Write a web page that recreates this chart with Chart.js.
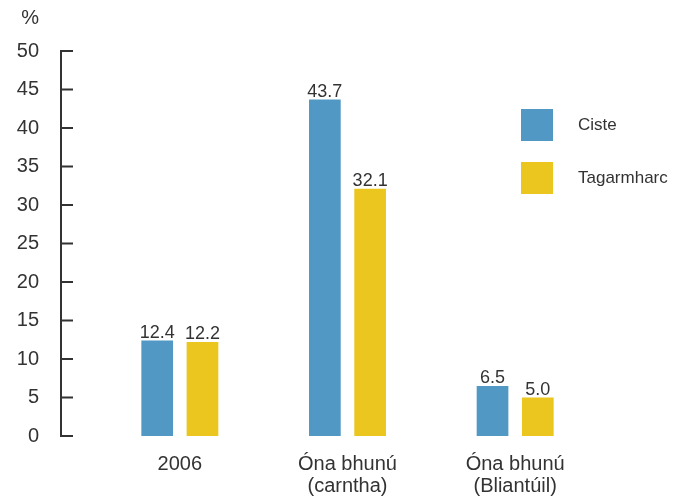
<!DOCTYPE html>
<html>
<head>
<meta charset="utf-8">
<script src="https://cdn.jsdelivr.net/npm/chart.js@4.4.1/dist/chart.umd.min.js"></script>
<style>
  body { margin: 0; background: #fff; }
  #wrap { position: relative; width: 683px; height: 499px; }
</style>
</head>
<body>
<div id="wrap"><canvas id="myChart"></canvas></div>
<script>
'use strict';
// ******* Data *******
let categories = ['2006', ['Óna bhunú', '(carntha)'], ['Óna bhunú', '(Bliantúil)']];
let seriesNames = ['Ciste', 'Tagarmharc'];
let cisteValues = [12.4, 43.7, 6.5];
let tagarmharcValues = [12.2, 32.1, 5.0];
let yTicks = [0, 5, 10, 15, 20, 25, 30, 35, 40, 45, 50];
let unitLabel = '%';

// ******* Styles *******
let textColor = '#333333';
let fontFamily = '"Liberation Sans", Arial, sans-serif';
let blue = '#5198c4';
let yellow = '#ebc61f';

// ****** Extras: axis line with inward ticks, value labels, legend, unit ******
let chartExtras = {
  id: 'chartExtras',
  afterDatasetsDraw(chart) {
    let ctx = chart.ctx;
    let yScale = chart.scales.y;
    let area = chart.chartArea;
    ctx.save();

    // y axis line and tick marks pointing into the plot
    let axisX = 61;
    ctx.strokeStyle = '#333333';
    ctx.lineWidth = 2;
    ctx.beginPath();
    ctx.moveTo(axisX, yScale.getPixelForValue(yTicks[0]) + 1);
    ctx.lineTo(axisX, yScale.getPixelForValue(yTicks[yTicks.length - 1]) - 1);
    for (let i = 0; i < yTicks.length; i++) {
      let py = yScale.getPixelForValue(yTicks[i]);
      ctx.moveTo(axisX - 1, py);
      ctx.lineTo(axisX + 12, py);
    }
    ctx.stroke();

    // value labels over bars
    ctx.fillStyle = textColor;
    ctx.font = '18px ' + fontFamily;
    ctx.textAlign = 'center';
    ctx.textBaseline = 'alphabetic';
    chart.data.datasets.forEach((ds, i) => {
      chart.getDatasetMeta(i).data.forEach((bar, j) => {
        ctx.fillText(ds.data[j].toFixed(1), bar.x, bar.y - 3);
      });
    });

    // unit label
    ctx.font = '20px ' + fontFamily;
    ctx.textAlign = 'right';
    ctx.textBaseline = 'middle';
    ctx.fillText(unitLabel, 39, 18);

    // legend
    let boxX = area.right - 78;
    let boxY = area.top + 58;
    ctx.font = '17px ' + fontFamily;
    ctx.textAlign = 'left';
    chart.data.datasets.forEach((ds, i) => {
      let top = boxY + i * 53;
      ctx.fillStyle = ds.backgroundColor;
      ctx.fillRect(boxX, top, 32, 32);
      ctx.fillStyle = textColor;
      ctx.fillText(ds.label, boxX + 57, top + 16);
    });

    ctx.restore();
  }
};

let ctx = document.getElementById('myChart');

let myChartObj = {
  type: 'bar',
  data: {
    labels: categories,
    datasets: [{
      label: seriesNames[0],
      data: cisteValues,
      backgroundColor: blue,
      borderWidth: 0,
      categoryPercentage: 0.54,
      barPercentage: 0.70
    },
    {
      label: seriesNames[1],
      data: tagarmharcValues,
      backgroundColor: yellow,
      borderWidth: 0,
      categoryPercentage: 0.54,
      barPercentage: 0.70
    }]
  },
  options: {
    responsive: true,
    maintainAspectRatio: false,
    animation: false,
    layout: {
      padding: { top: 51, right: 84, bottom: 2, left: 0 }
    },
    plugins: {
      legend: { display: false },
      tooltip: { enabled: false }
    },
    scales: {
      x: {
        afterFit: function (scale) { scale.height = 61; },
        grid: { display: false, drawTicks: false },
        border: { display: false },
        ticks: {
          color: textColor,
          padding: 17,
          maxRotation: 0,
          font: { family: fontFamily, size: 20, lineHeight: 1.1 }
        }
      },
      y: {
        min: 0,
        max: 50,
        afterFit: function (scale) {
          scale.width = 96;
          scale.paddingTop = 12;
          scale.paddingBottom = 12;
        },
        afterBuildTicks: function (scale) {
          scale.ticks = yTicks.map(v => ({ value: v }));
        },
        grid: { display: false, drawTicks: false },
        border: { display: false },
        ticks: {
          color: textColor,
          padding: 57,
          font: { family: fontFamily, size: 20 }
        }
      }
    }
  },
  plugins: [chartExtras]
};

new Chart(ctx, myChartObj);
</script>
</body>
</html>
